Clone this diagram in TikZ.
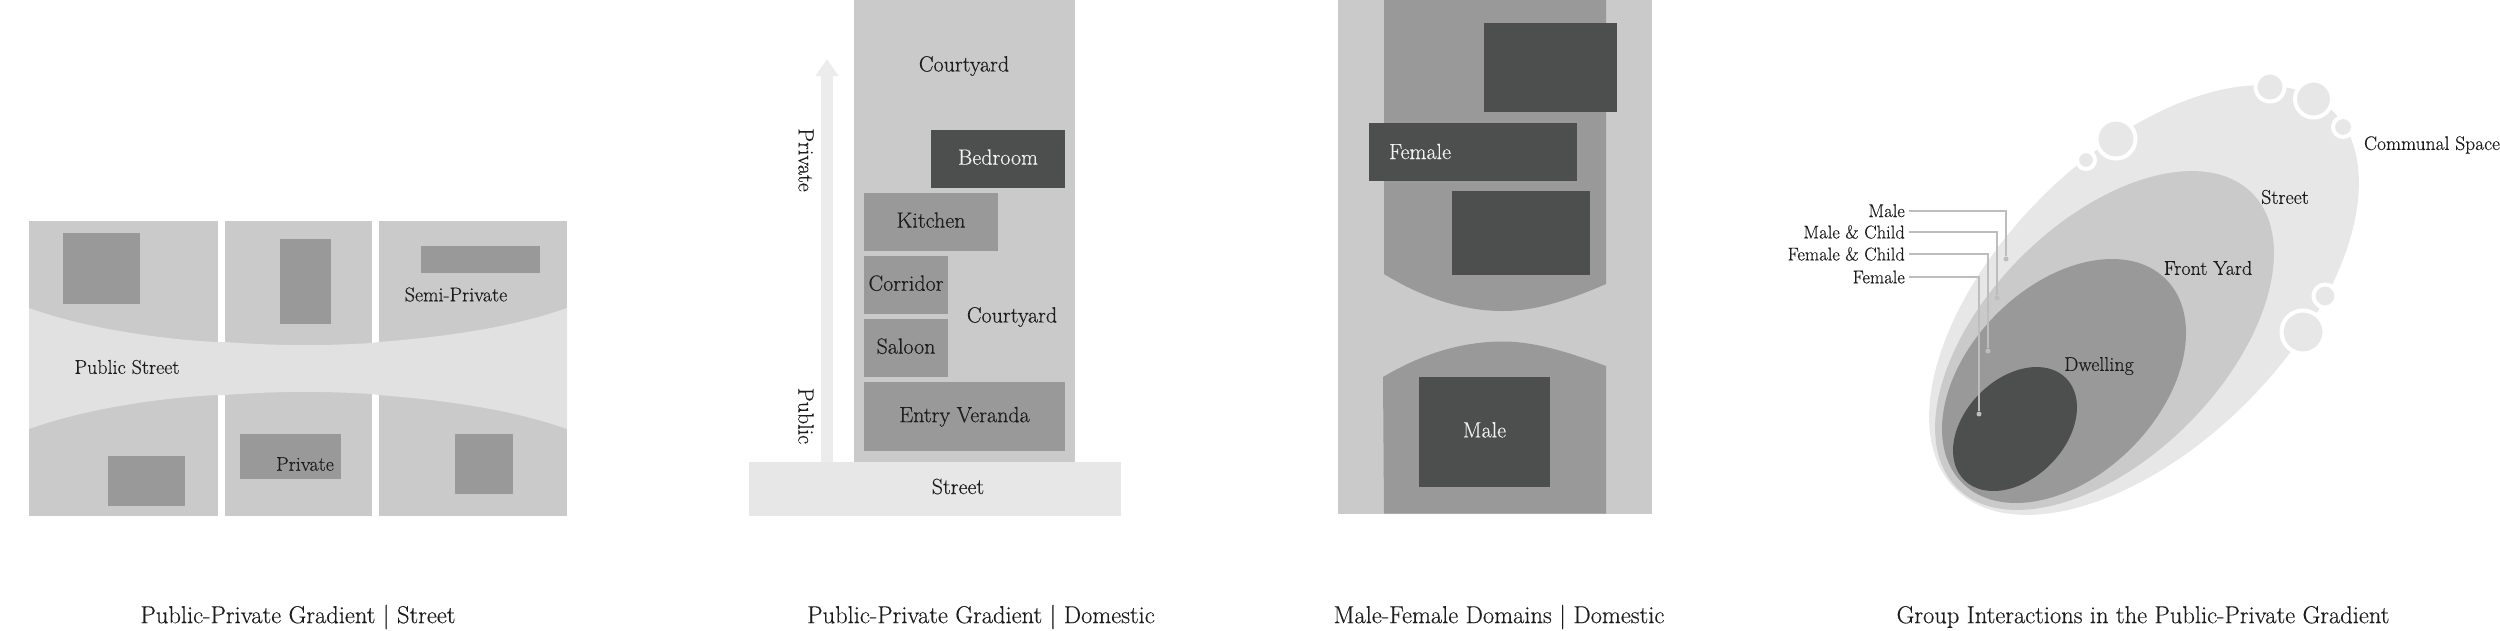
\documentclass[tikz,border=0pt]{standalone}
\usepackage{fontspec}
\setmainfont{Latin Modern Roman}[FakeBold=0.35]
\usetikzlibrary{arrows.meta}
\definecolor{palegrey}{HTML}{E1E1E2}
\definecolor{lightgrey}{HTML}{E7E7E7}
\definecolor{softgrey}{HTML}{CBCACB}
\definecolor{midgrey}{HTML}{999999}
\definecolor{darkgrey}{HTML}{4D4E4E}
\definecolor{inkgrey}{HTML}{1C1C1C}
\definecolor{leadgrey}{HTML}{BDBDBD}
\begin{document}
\begin{tikzpicture}[
        x=1pt, y=-1pt,
        txt/.style={inner sep=0pt, text=inkgrey, font=\fontsize{20}{24}\selectfont},
        bigtxt/.style={txt, font=\fontsize{22}{26}\selectfont},
        smalltxt/.style={txt, font=\fontsize{18.5}{22}\selectfont},
        whitetxt/.style={bigtxt, text=white!95!black},
        captiontxt/.style={txt, font=\fontsize{24.5}{28}\selectfont},
        room/.style={bigtxt, fill=midgrey, text depth=4pt},
        darkroom/.style={whitetxt, fill=darkgrey, text depth=4pt},
        bubble/.style={circle, fill=lightgrey, draw=white, line width=4pt, inner sep=0pt},
        leadlabel/.style={smalltxt, anchor=east, inner xsep=4pt},
        leaddot/.style={circle, fill=leadgrey, inner sep=0pt, minimum size=5pt},
        leader/.style={draw=leadgrey, line width=1.6pt},
        ]
    \useasboundingbox (0,0) rectangle (2500,630);

    % street plan
    \fill[softgrey] (29,221) rectangle (218,516);
    \fill[softgrey] (225,221) rectangle (372,516);
    \fill[softgrey] (379,221) rectangle (567,516);
    \fill[palegrey] (29,308) .. controls (90,330) and (170,340) .. (218,342)
        -- (225,342) .. controls (280,346) and (320,346) .. (372,343) -- (379,342)
        .. controls (430,338) and (505,330) .. (567,308) -- (567,429)
        .. controls (505,407) and (430,399) .. (379,395) -- (372,394)
        .. controls (320,391) and (280,391) .. (225,395) -- (218,395)
        .. controls (170,397) and (90,407) .. (29,429) -- cycle;
    \fill[midgrey] (63,233) rectangle (140,304);
    \fill[midgrey] (280,239) rectangle (331,324);
    \fill[midgrey] (421,246) rectangle (540,273);
    \fill[midgrey] (108,456) rectangle (185,506);
    \fill[midgrey] (240,434) rectangle (341,479);
    \fill[midgrey] (455,434) rectangle (513,494);
    \node[txt] at(456,294.5) (semi) {Semi-Private};
    \node[txt] at(127,367) (pubstreet) {Public Street};
    \node[txt] at(305,464) (private) {Private};
    \node[captiontxt] at(298,617) (cap1) {Public-Private Gradient | Street};

    % house section
    \fill[softgrey] (854,0) rectangle (1075,462);
    \fill[lightgrey] (749,462) rectangle (1121,515.5);
    \coordinate (gradbase) at (827,462);
    \coordinate (gradtip) at (827,59);
    \draw[-{Triangle[length=17pt, width=22pt]}, line width=12pt, draw=lightgrey!80!white] (gradbase) -- (gradtip);
    \node[bigtxt, rotate=-90] at(806,160) (gradprivate) {Private};
    \node[bigtxt, rotate=-90] at(806,416) (gradpublic) {Public};
    \node[bigtxt] at(964,66) (court1) {Courtyard};
    \node[bigtxt] at(1012,317) (court2) {Courtyard};
    \node[darkroom, minimum width=134pt, minimum height=58pt] at(998,159) (bedroom) {Bedroom};
    \node[room, minimum width=134pt, minimum height=58pt] at(931,222) (kitchen) {Kitchen};
    \node[room, minimum width=84pt, minimum height=58pt] at(906,285) (corridor) {Corridor};
    \node[room, minimum width=84pt, minimum height=58pt] at(906,348) (saloon) {Saloon};
    \node[room, minimum width=201pt, minimum height=69pt] at(964.5,416.5) (veranda) {Entry Veranda};
    \node[bigtxt] at(958,486.5) (street) {Street};
    \node[captiontxt] at(981,617) (cap2) {Public-Private Gradient | Domestic};

    % male and female domains
    \fill[softgrey] (1338,0) rectangle (1652,513.5);
    \fill[midgrey] (1384,0) -- (1606,0) -- (1606,284) .. controls (1560,304) and (1530,311) .. (1503,311)
        .. controls (1460,311) and (1420,296) .. (1384,274) -- cycle;
    \fill[midgrey] (1384,513.5) -- (1606,513.5) -- (1606,366) .. controls (1560,349) and (1530,341.5) .. (1503,341.5)
        .. controls (1460,341.5) and (1420,355) .. (1383,377) -- cycle;
    \fill[darkgrey] (1484,23) rectangle (1617,112);
    \fill[darkgrey] (1369,122.5) rectangle (1577,181);
    \fill[darkgrey] (1452,191) rectangle (1590,275);
    \node[whitetxt] at(1420,151.5) (female) {Female};
    \node[darkroom, minimum width=131pt, minimum height=109.5pt] at(1484.5,431.75) (male) {Male};
    \node[captiontxt] at(1499,617) (cap3) {Male-Female Domains | Domestic};

    % nested groups
    \fill[lightgrey, shift={(2144,300)}, rotate=45] (0,0) ellipse (267 and 145);
    \fill[softgrey, shift={(2104.5,340.5)}, rotate=45] (0,0) ellipse (208.5 and 118);
    \fill[midgrey, shift={(2064,381)}, rotate=45] (0,0) ellipse (144 and 95);
    \fill[darkgrey, shift={(2015,429)}, rotate=45] (0,0) ellipse (72 and 50);

    \node[bubble, minimum size=39pt] at(2116,139) (bub1) {};
    \node[bubble, minimum size=18pt] at(2086,160) (bub2) {};
    \node[bubble, minimum size=29pt] at(2270,87) (bub3) {};
    \node[bubble, minimum size=37pt] at(2313.5,99) (bub4) {};
    \node[bubble, minimum size=20pt] at(2343,127) (bub5) {};
    \node[bubble, minimum size=23pt] at(2325,296) (bub6) {};
    \node[bubble, minimum size=43pt] at(2303,332) (bub7) {};

    \node[txt, font=\fontsize{19.5}{24}\selectfont] at(2432,145) (communal) {Communal Space};
    \node[txt] at(2285,197) (streetlbl) {Street};
    \node[txt] at(2208,268) (frontyard) {Front Yard};
    \node[txt] at(2099,366) (dwelling) {Dwelling};

    \node[leadlabel] at(1909,210.7) (lblmale) {Male};
    \node[leadlabel] at(1909,232) (lblmalechild) {Male \& Child};
    \node[leadlabel] at(1909,254) (lblfemalechild) {Female \& Child};
    \node[leadlabel] at(1909,277) (lblfemale) {Female};
    \node[leaddot] at(2006,259) (dotmale) {};
    \node[leaddot] at(1997,298) (dotmalechild) {};
    \node[leaddot] at(1988,351) (dotfemalechild) {};
    \node[leaddot] at(1979,414) (dotfemale) {};

    \draw[leader] (lblmale.east) -| (dotmale);
    \draw[leader] (lblmalechild.east) -| (dotmalechild);
    \draw[leader] (lblfemalechild.east) -| (dotfemalechild);
    \draw[leader] (lblfemale.east) -| (dotfemale);

    \node[captiontxt] at(2143,617) (cap4) {Group Interactions in the Public-Private Gradient};
\end{tikzpicture}
\end{document}
